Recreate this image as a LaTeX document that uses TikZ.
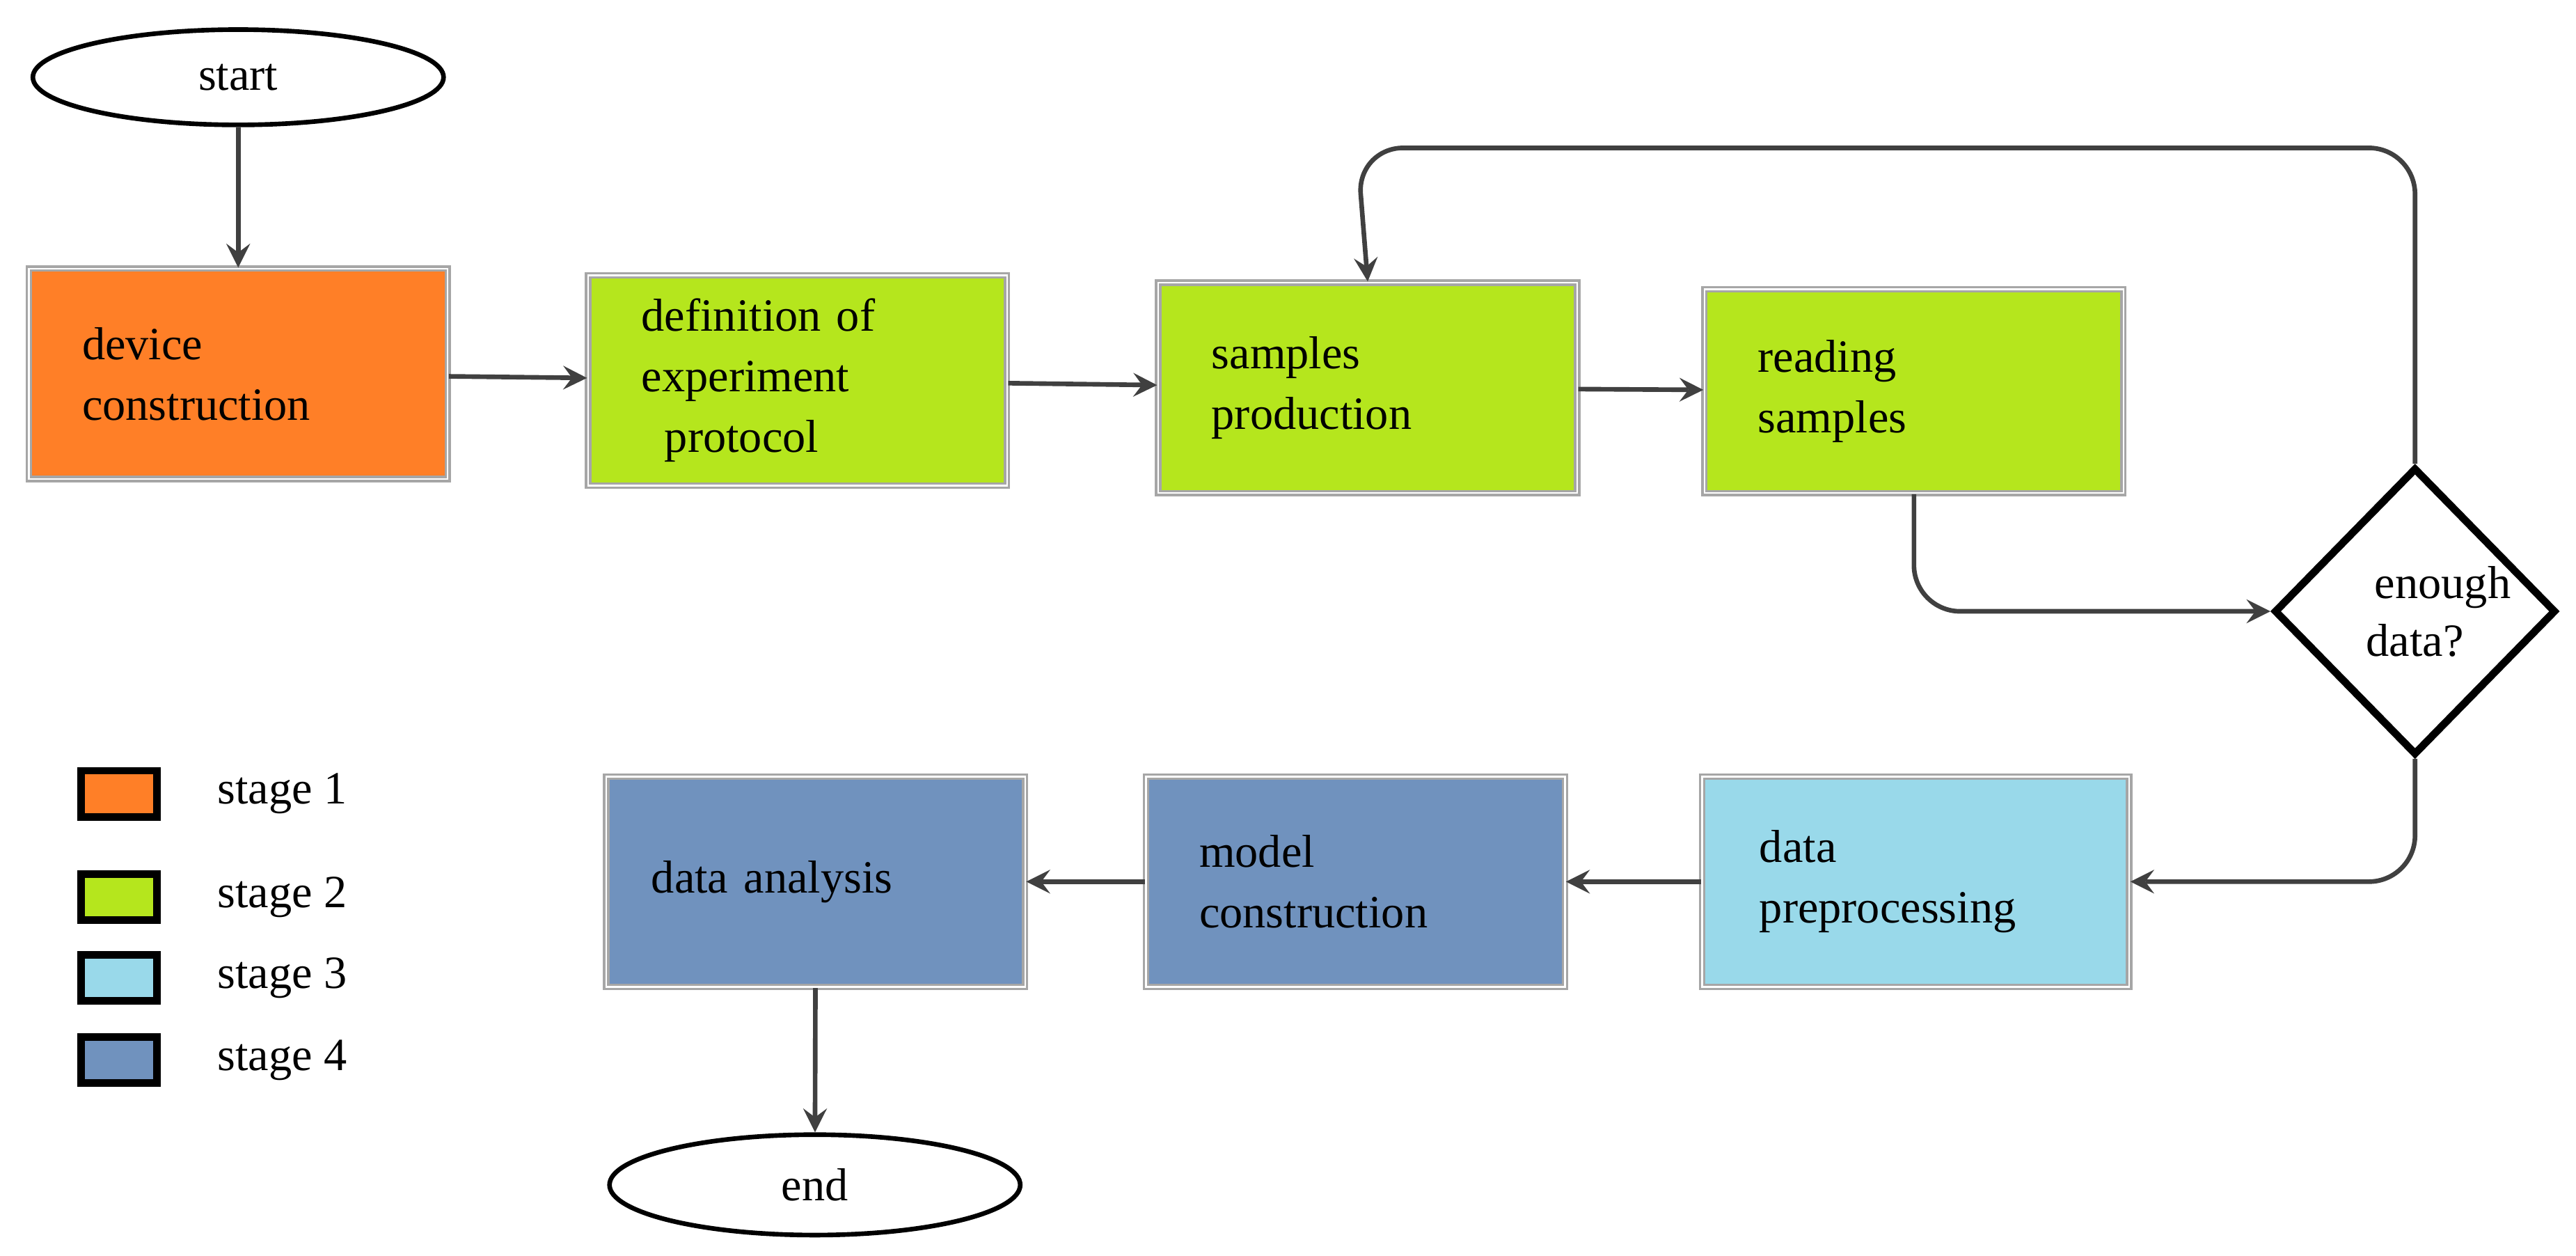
\documentclass[tikz,border=0pt]{standalone}
\usepackage{fontspec}
\setmainfont{Liberation Serif}
\usetikzlibrary{shapes.geometric, arrows}
\definecolor{stageone}{HTML}{FF7F27}
\definecolor{stagetwo}{HTML}{B5E61D}
\definecolor{stagethree}{HTML}{99D9EA}
\definecolor{stagefour}{HTML}{7092BE}
\tikzstyle{terminal} = [ellipse, minimum width=2.5cm, minimum height=0.58cm, draw=black, thick, fill=white, font=\fontsize{8}{10}\selectfont]
\tikzstyle{box} = [rectangle, minimum width=2.55cm, minimum height=1.28cm, draw=gray!70, double=white, double distance=0.3pt, text width=1.9cm, align=left, font=\fontsize{8}{10.5}\selectfont]
\tikzstyle{decision} = [diamond, minimum width=1.7cm, minimum height=1.75cm, inner sep=0pt, draw=black, line width=1.3pt, fill=white, font=\fontsize{8}{10}\selectfont, align=center]
\tikzstyle{legend} = [rectangle, minimum width=0.46cm, minimum height=0.28cm, draw=black, line width=1.3pt]
\tikzstyle{arrow} = [thick, draw=black!75, ->, >=stealth]

\begin{document}
\begin{tikzpicture}
\useasboundingbox (0,0) rectangle (15.68,7.64);

% Nodes
\node (start) [terminal] at (1.45,7.17) {start};
\node (device) [box, fill=stageone] at (1.45,5.365) {device\\construction};
\node (protocol) [box, fill=stagetwo] at (4.855,5.325) {definition of\\experiment\\\hspace*{0.5em}protocol};
\node (production) [box, fill=stagetwo] at (8.325,5.28) {samples\\production};
\node (reading) [box, fill=stagetwo, minimum height=1.24cm] at (11.65,5.26) {reading\\samples};
\node (enough) [decision] at (14.70,3.92) {\hspace*{1.2em}enough\\data?};
\node (preproc) [box, fill=stagethree, minimum width=2.6cm] at (11.66,2.275) {data\\preprocessing};
\node (model) [box, fill=stagefour] at (8.25,2.275) {model\\construction};
\node (analysis) [box, fill=stagefour, text width=2.0cm] at (4.965,2.275) {data analysis\\[0.55cm]};
\node (end) [terminal] at (4.96,0.43) {end};

% Legend
\foreach \y/\c/\t in {2.81/stageone/stage 1, 2.18/stagetwo/stage 2, 1.69/stagethree/stage 3, 1.19/stagefour/stage 4}{
  \node (leg\t) [legend, fill=\c] at (0.725,\y) {};
  \node [anchor=west, font=\fontsize{8}{10}\selectfont] at (1.2,\y) {\t};
}

% Arrows
\draw [arrow] (start) -- (device);
\draw [arrow] (device) -- (protocol);
\draw [arrow] (protocol) -- (production);
\draw [arrow] (production) -- (reading);
\draw [arrow, rounded corners=8pt] (reading.south) |- (enough.west);
\draw [arrow, rounded corners=8pt] (enough.north) |- (8.26,6.74) -- (production.north);
\draw [arrow, rounded corners=8pt] (enough.south) |- (preproc.east);
\draw [arrow] (preproc) -- (model);
\draw [arrow] (model) -- (analysis);
\draw [arrow] (analysis) -- (end);

\end{tikzpicture}
\end{document}
